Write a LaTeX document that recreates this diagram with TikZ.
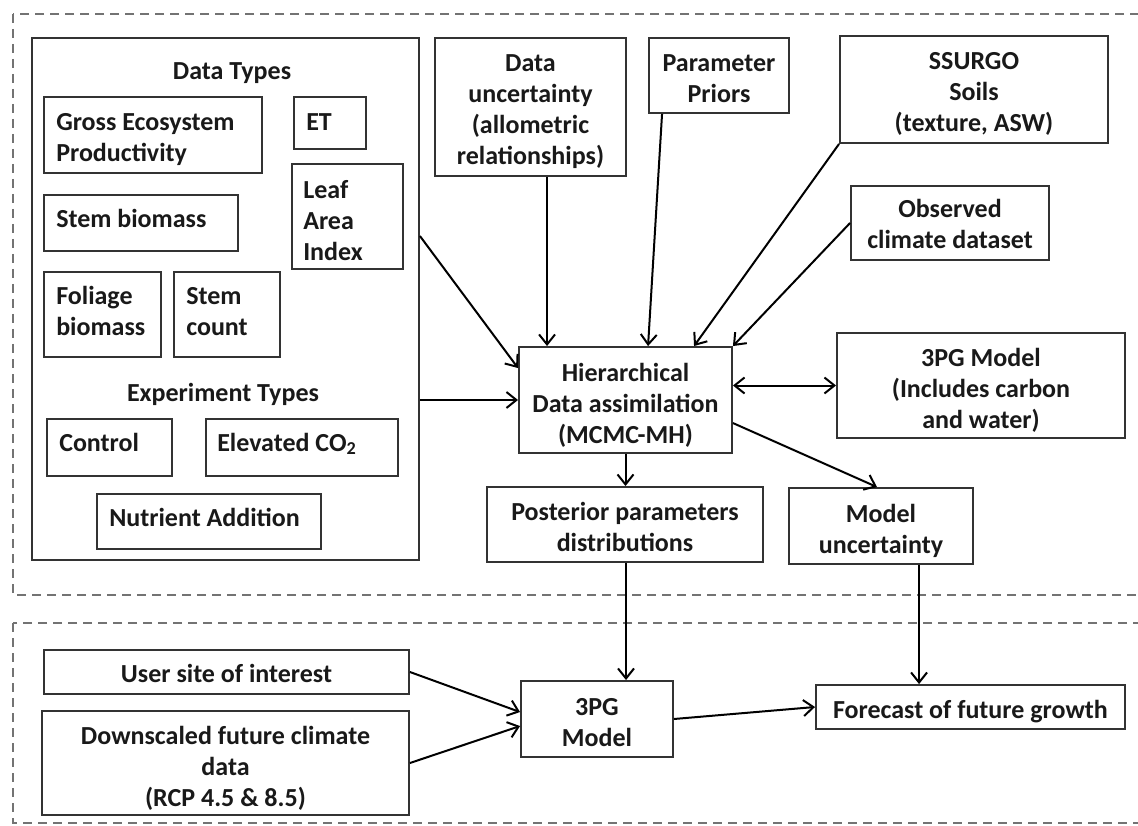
\documentclass[tikz,border=0pt]{standalone}
\usepackage{fontspec}
\setmainfont{Carlito}
\usetikzlibrary{arrows.meta,calc}
\begin{document}
\begin{tikzpicture}[x=1pt,y=-1pt,
  every node/.style={font=\fontsize{26}{31}\selectfont\bfseries, text=black!90},
  box/.style={draw=black!80, line width=1.9pt, inner sep=0pt},
  lbl/.style={anchor=base west, align=left, inner sep=0pt},
  ctxt/.style={anchor=base, align=center, inner sep=0pt},
  tip/.tip={Straight Barb[length=10pt,width=16pt]},
  arr/.style={draw=black, line width=2pt, -tip},
  darr/.style={draw=black, line width=2pt, tip-tip},
  region/.style={draw=black!55, line width=1.9pt, dash pattern=on 9pt off 6pt}]
\useasboundingbox (0,0) rectangle (1138,826);
\clip (0,0) rectangle (1138,826);
\fill[white] (0,0) rectangle (1138,826);
% dashed regions
\draw[region] (13,14) rectangle (1150,595);
\draw[region] (13,623) rectangle (1150,823);
% data container
\node[box, minimum width=387pt, minimum height=522pt] (dt) at (225.5,299) {};
\node[anchor=base, inner sep=0pt] (dtl) at (232,80) {Data Types};
\node[anchor=base, inner sep=0pt] (etl) at (223,401) {Experiment Types};
% data type boxes
\node[box, minimum width=218pt, minimum height=76pt] (gep) at (153,135) {};
\node[lbl] (gept) at ($(gep.north west)+(13,65)$) {Gross Ecosystem\\Productivity};
\node[box, minimum width=72pt, minimum height=52pt] (et) at (330,123) {};
\node[lbl] (ett) at ($(et.north west)+(13,34)$) {ET};
\node[box, minimum width=111pt, minimum height=105pt] (lai) at (347.5,216.5) {};
\node[lbl] (lait) at ($(lai.north west)+(12,97)$) {Leaf\\Area\\Index};
\node[box, minimum width=194pt, minimum height=56pt] (sb) at (141,223) {};
\node[lbl] (sbt) at ($(sb.north west)+(13,33)$) {Stem biomass};
\node[box, minimum width=117pt, minimum height=85pt] (fol) at (102.5,314.5) {};
\node[lbl] (folt) at ($(fol.north west)+(13,64)$) {Foliage\\biomass};
\node[box, minimum width=106pt, minimum height=85pt] (sc) at (227,314.5) {};
\node[lbl] (sct) at ($(sc.north west)+(13,64)$) {Stem\\count};
% experiment boxes
\node[box, minimum width=125pt, minimum height=57pt] (ctl) at (109.5,447.5) {};
\node[lbl] (ctlt) at ($(ctl.north west)+(13,33)$) {Control};
\node[box, minimum width=192pt, minimum height=57pt] (eco) at (302,447.5) {};
\node[lbl] (ecot) at ($(eco.north west)+(12,33)$) {Elevated CO\textsubscript{2}};
\node[box, minimum width=224pt, minimum height=55pt] (nut) at (209,521.5) {};
\node[lbl] (nutt) at ($(nut.north west)+(13,33)$) {Nutrient Addition};
% right side boxes
\node[box, minimum width=191pt, minimum height=138pt] (du) at (530.5,107) {};
\node[ctxt] (dut) at ($(du.center)+(0,58)$) {Data\\uncertainty\\(allometric\\relationships)};
\node[box, minimum width=140pt, minimum height=75pt] (pp) at (719,75.5) {};
\node[ctxt] (ppt) at ($(pp.center)+(0,27)$) {Parameter\\Priors};
\node[box, minimum width=268pt, minimum height=107pt] (ss) at (974,89.5) {};
\node[ctxt] (sst) at ($(ss.center)+(0,42)$) {SSURGO\\Soils\\(texture, ASW)};
\node[box, minimum width=198pt, minimum height=74pt] (ob) at (950,223) {};
\node[ctxt] (obt) at ($(ob.center)+(0,26)$) {Observed\\climate dataset};
\node[box, minimum width=288pt, minimum height=105pt] (tpg) at (981,385.5) {};
\node[ctxt] (tpgt) at ($(tpg.center)+(0,43)$) {3PG Model\\(Includes carbon\\and water)};
\node[box, minimum width=213pt, minimum height=106pt] (hier) at (625.5,400) {};
\node[ctxt] (hiert) at ($(hier.center)+(0,43)$) {Hierarchical\\Data assimilation\\(MCMC-MH)};
\node[box, minimum width=276pt, minimum height=75pt] (post) at (625,524.5) {};
\node[ctxt] (postt) at ($(post.center)+(0,27)$) {Posterior parameters\\distributions};
\node[box, minimum width=184pt, minimum height=76pt] (mu) at (881,526) {};
\node[ctxt] (mut) at ($(mu.center)+(0,27)$) {Model\\uncertainty};
% bottom region
\node[box, minimum width=365pt, minimum height=44pt] (us) at (226.5,672) {};
\node[ctxt] (ust) at ($(us.center)+(0,10)$) {User site of interest};
\node[box, minimum width=367pt, minimum height=104pt] (dn) at (225.5,763) {};
\node[ctxt] (dnt) at ($(dn.center)+(0,43)$) {Downscaled future climate\\data\\(RCP 4.5 \& 8.5)};
\node[box, minimum width=152pt, minimum height=76pt] (tb) at (597,719) {};
\node[ctxt] (tbt) at ($(tb.center)+(0,27)$) {3PG\\Model};
\node[box, minimum width=309pt, minimum height=44pt] (fc) at (970.5,707) {};
\node[ctxt] (fct) at ($(fc.center)+(0,11)$) {Forecast of future growth};
% connectors
\draw[arr] ($(dt.north east)+(0,199)$) -- ($(hier.north west)+(0,22)$);
\draw[arr] (hier.west -| dt.east) -- (hier.west);
\draw[arr] ($(du.south west)+(113,0)$) coordinate (a1) -- (a1 |- hier.north);
\draw[arr] ($(pp.south west)+(14,0)$) -- ($(hier.north west)+(130,0)$);
\draw[arr] (ss.south west) -- ($(hier.north west)+(176,0)$);
\draw[arr] (ob.west) -- (hier.north east);
\draw[darr] (tpg.west -| hier.east) -- (tpg.west);
\draw[arr] (hier.south) -- (hier.south |- post.north);
\draw[arr] ($(hier.north east)+(0,77)$) -- ($(mu.north)+(-4,0)$);
\draw[arr] ($(post.south)+(1,0)$) coordinate (a2) -- (a2 |- tb.north);
\draw[arr] ($(mu.south west)+(131,0)$) coordinate (a3) -- (a3 |- fc.north);
\draw[arr] (us.east) -- ($(tb.north west)+(0,32)$);
\draw[arr] (dn.east) -- ($(tb.north west)+(0,46)$);
\draw[arr] (tb.east) -- (fc.west);
\end{tikzpicture}
\end{document}
